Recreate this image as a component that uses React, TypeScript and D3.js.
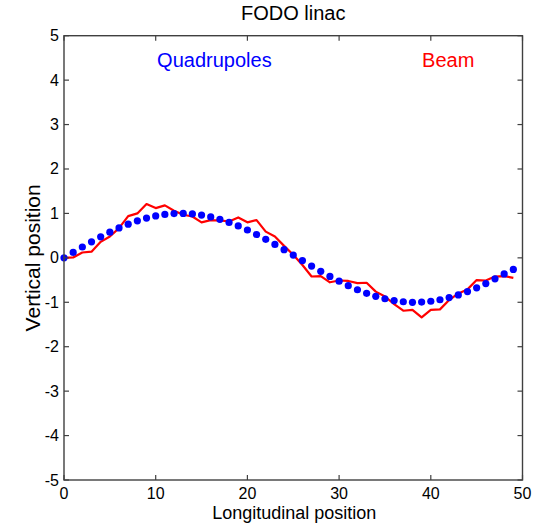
import React from "react";
import * as d3 from "d3";

const positions = [
  0, 1, 2, 3, 4, 5, 6, 7, 8, 9, 10, 11, 12, 13, 14, 15, 16, 17, 18, 19, 20, 21, 22, 23, 24,
  25, 26, 27, 28, 29, 30, 31, 32, 33, 34, 35, 36, 37, 38, 39, 40, 41, 42, 43, 44, 45, 46, 47, 48, 49,
];

const quadrupoles = [
  0, 0.123, 0.244, 0.361, 0.473, 0.578, 0.674, 0.759, 0.834, 0.895,
  0.943, 0.977, 0.996, 1.0, 0.988, 0.962, 0.921, 0.866, 0.798, 0.718,
  0.627, 0.526, 0.418, 0.303, 0.184, 0.062, -0.062, -0.184, -0.303, -0.418,
  -0.526, -0.627, -0.718, -0.798, -0.866, -0.921, -0.962, -0.988, -1.0, -0.996,
  -0.977, -0.943, -0.895, -0.834, -0.759, -0.674, -0.578, -0.473, -0.361, -0.26,
];

const beam = [
  0.0, 0.01, 0.12, 0.14, 0.36, 0.48, 0.67, 0.94, 1.0, 1.21,
  1.12, 1.18, 1.06, 0.97, 0.93, 0.8, 0.85, 0.84, 0.82, 0.91,
  0.8, 0.85, 0.59, 0.48, 0.27, 0.07, -0.16, -0.42, -0.41, -0.55,
  -0.51, -0.52, -0.57, -0.56, -0.76, -0.87, -1.04, -1.19, -1.17, -1.34,
  -1.17, -1.16, -0.95, -0.8, -0.71, -0.5, -0.51, -0.42, -0.41, -0.45,
];

const xTicks = [0, 10, 20, 30, 40, 50];
const yTicks = [-5, -4, -3, -2, -1, 0, 1, 2, 3, 4, 5];

const W = 537;
const H = 525;
const FONT = "'Liberation Sans', Arial, Helvetica, sans-serif";

export default function App() {
  const left = 64;
  const right = 522.5;
  const top = 35.7;
  const bottom = 480;
  const x = d3.scaleLinear().domain([0, 50]).range([left, right]);
  const y = d3.scaleLinear().domain([-5, 5]).range([bottom, top]);

  const line = d3
    .line<number>()
    .x((_, i) => x(positions[i]))
    .y((d) => y(d));

  const tickLen = 5;
  const axisColor = "#404040";

  return (
    <svg
      width={W}
      height={H}
      style={{ position: "absolute", left: 0, top: 0, background: "#fff" }}
      fontFamily={FONT}
    >
      <rect x={0} y={0} width={W} height={H} fill="#fff" />

      {/* data */}
      <g>
        <path d={line(beam) || ""} fill="none" stroke="#ff0000" strokeWidth={2.2} strokeLinejoin="round" />
        {quadrupoles.map((v, i) => (
          <circle key={i} cx={x(positions[i])} cy={y(v)} r={3.6} fill="#0000ff" />
        ))}
      </g>

      {/* box */}
      <rect x={left} y={top} width={right - left} height={bottom - top} fill="none" stroke={axisColor} strokeWidth={1.4} />

      {/* x ticks */}
      {xTicks.map((t) => (
        <g key={"x" + t}>
          <line x1={x(t)} x2={x(t)} y1={bottom} y2={bottom - tickLen} stroke={axisColor} strokeWidth={1.2} />
          <line x1={x(t)} x2={x(t)} y1={top} y2={top + tickLen} stroke={axisColor} strokeWidth={1.2} />
          <text x={x(t)} y={499} textAnchor="middle" fontSize={16} fill="#000">
            {t}
          </text>
        </g>
      ))}

      {/* y ticks */}
      {yTicks.map((t) => (
        <g key={"y" + t}>
          <line x1={left} x2={left + tickLen} y1={y(t)} y2={y(t)} stroke={axisColor} strokeWidth={1.2} />
          <line x1={right} x2={right - tickLen} y1={y(t)} y2={y(t)} stroke={axisColor} strokeWidth={1.2} />
          <text x={left - 5} y={y(t) + 5.5} textAnchor="end" fontSize={16} fill="#000">
            {t}
          </text>
        </g>
      ))}

      {/* title */}
      <text x={(left + right) / 2} y={20} textAnchor="middle" fontSize={20} fill="#000">
        FODO linac
      </text>

      {/* in-plot labels */}
      <text x={x(16.4)} y={67} textAnchor="middle" fontSize={20} fill="#0000ff">
        Quadrupoles
      </text>
      <text x={x(41.9)} y={67} textAnchor="middle" fontSize={20} fill="#ff0000">
        Beam
      </text>

      {/* axis labels */}
      <text x={(left + right) / 2 + 1} y={519} textAnchor="middle" fontSize={18} fill="#000">
        Longitudinal position
      </text>
      <text
        transform={`translate(40, ${(top + bottom) / 2}) rotate(-90)`}
        textAnchor="middle"
        fontSize={21}
        fill="#000"
      >
        Vertical position
      </text>
    </svg>
  );
}
